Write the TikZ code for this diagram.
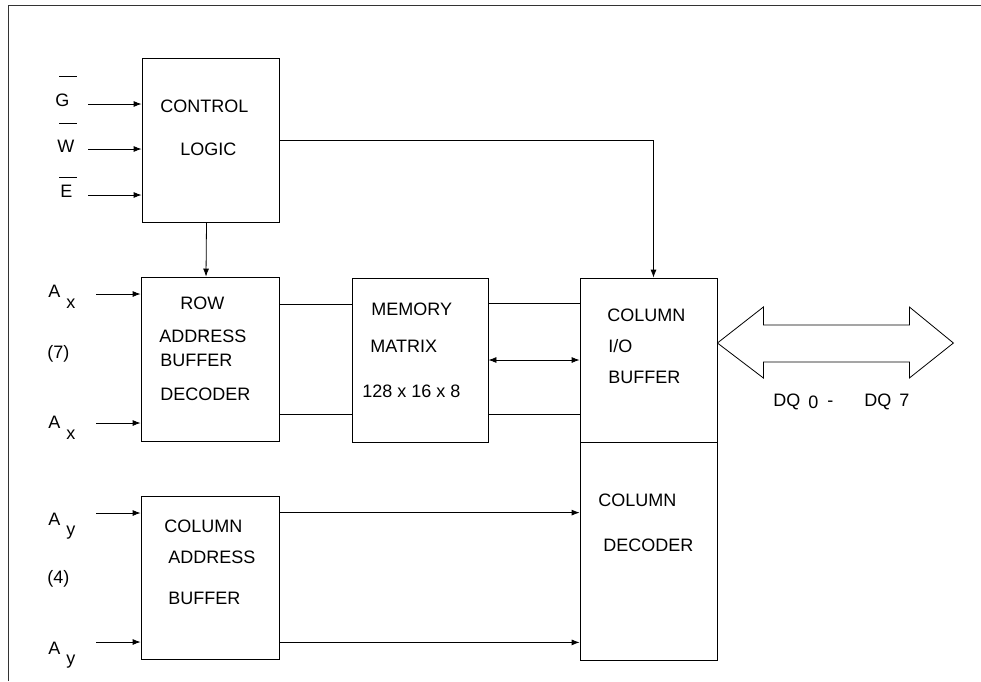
\documentclass[tikz,border=0pt]{standalone}
\usepackage{fontspec}
\setmainfont{Liberation Sans}
\usetikzlibrary{arrows.meta}
\begin{document}
\begin{tikzpicture}[x=1pt,y=-1pt,line width=0.8pt,
    >={Latex[length=8pt,width=6pt]},
    blk/.style={draw,inner sep=0pt},
    txt/.style={anchor=base west,inner sep=0pt,font=\fontsize{18}{20}\selectfont}]
      \useasboundingbox (0,0) rectangle (981,681);
      % frame
      \draw[black!80] (8,681) -- (8,5) -- (981,5);
      % blocks
      \draw[blk]
        (210.5,140) node[blk,minimum width=137pt,minimum height=164pt] (ctrl){}
        (210,359) node[blk,minimum width=138pt,minimum height=164pt] (row){}
        (420,360) node[blk,minimum width=136pt,minimum height=164pt] (mem){}
        (648.5,360) node[blk,minimum width=137pt,minimum height=164pt] (colio){}
        (648.5,551) node[blk,minimum width=137pt,minimum height=218pt] (coldec){}
        (210,577.5) node[blk,minimum width=138pt,minimum height=163pt] (cab){};
      % block texts
      \draw
        (160,112) node[txt] (ctrl1){CONTROL}
        (180,155) node[txt] (ctrl2){LOGIC}
        (180,309) node[txt] (row1){ROW}
        (159,342) node[txt] (row2){ADDRESS}
        (160,366) node[txt] (row3){BUFFER}
        (160,400) node[txt] (row4){DECODER}
        (371,315) node[txt] (mem1){MEMORY}
        (370,352) node[txt] (mem2){MATRIX}
        (362,397) node[txt] (mem3){128 x 16 x 8}
        (607,321) node[txt] (colio1){COLUMN}
        (608,352) node[txt] (colio2){I/O}
        (608,383) node[txt] (colio3){BUFFER}
        (598,506) node[txt] (coldec1){COLUMN}
        (603,551) node[txt] (coldec2){DECODER}
        (164,532) node[txt] (cab1){COLUMN}
        (168,563) node[txt] (cab2){ADDRESS}
        (168,604) node[txt] (cab3){BUFFER};
      % pin labels
      \draw
        (55,106) node[txt] (g){G}
        (57,152) node[txt] (w){W}
        (60,197) node[txt] (e){E}
        (48,297) node[txt] (ax1){A\hspace{6pt}\raisebox{-11pt}{x}}
        (47,358) node[txt] (n7){(7)}
        (48,428) node[txt] (ax2){A\hspace{6pt}\raisebox{-11pt}{x}}
        (48,525) node[txt] (ay1){A\hspace{6pt}\raisebox{-10pt}{y}}
        (47,583) node[txt] (n4){(4)}
        (48,654) node[txt] (ay2){A\hspace{6pt}\raisebox{-10pt}{y}}
        (773,406) node[txt] (dq){DQ\hspace{8pt}\raisebox{-2pt}{0}\hspace{9pt}-\hspace{31pt}DQ\hspace{8pt}7};
      \draw (59,76) -- (77,76) (59,123) -- (77,123) (59,177) -- (77,177);
      % inputs
      \coordinate (gin) at (88,104);
      \coordinate (win) at (88,149);
      \coordinate (ein) at (88,195);
      \coordinate (axin1) at (96,294);
      \coordinate (axin2) at (96,423);
      \coordinate (ayin1) at (96,513);
      \coordinate (ayin2) at (96,642);
      \begin{scope}[->]
        \draw (gin) to (gin -| ctrl.west);
        \draw (win) to (win -| ctrl.west);
        \draw (ein) to (ein -| ctrl.west);
        \draw (axin1) to (axin1 -| row.west);
        \draw (axin2) to (axin2 -| row.west);
        \draw (ayin1) to (ayin1 -| cab.west);
        \draw (ayin2) to (ayin2 -| cab.west);
        \draw ([xshift=-4pt]ctrl.south) to ([xshift=-4pt]row.north);
        \draw (ctrl.east) -| ([xshift=5pt]colio.north);
        \draw ([yshift=-17pt]cab.north east) coordinate (c1) -- (c1 -| coldec.west);
        \draw ([yshift=17pt]cab.south east) coordinate (c2) -- (c2 -| coldec.west);
        \draw[<->] (mem.east) to (colio.west);
      \end{scope}
      \draw ([yshift=-28pt]row.north east) coordinate (r1) -- (r1 -| mem.west);
      \draw ([yshift=27pt]row.south east) coordinate (r2) -- (r2 -| mem.west);
      \draw ([yshift=-26pt]mem.north east) coordinate (m1) -- (m1 -| colio.west);
      \draw ([yshift=28pt]mem.south east) coordinate (m2) -- (m2 -| colio.west);
      % data bus
      \draw ([yshift=17pt]colio.east) -- ++(46,-36) -- ++(0,18) -- ++(146,0) -- ++(0,-18)
        -- ++(44,36) -- ++(-44,35) -- ++(0,-16) -- ++(-146,0) -- ++(0,16) -- cycle;
\end{tikzpicture}
\end{document}
